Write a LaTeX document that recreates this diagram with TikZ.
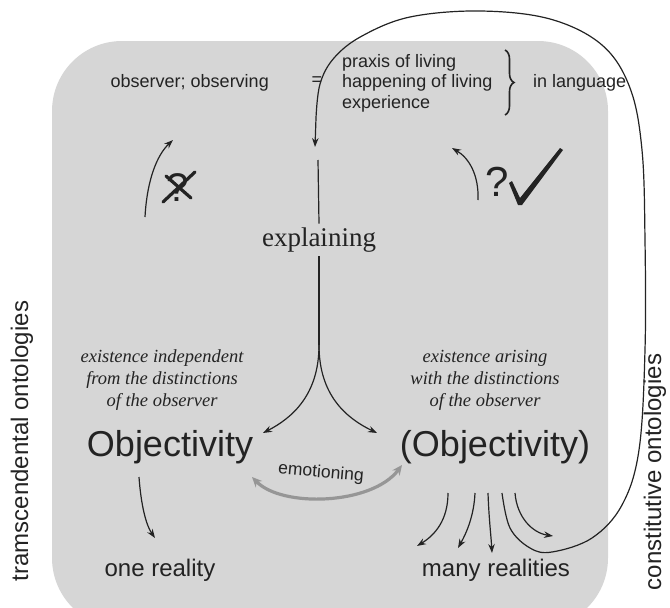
\documentclass[tikz,border=0pt]{standalone}
\usepackage{fontspec}
\setmainfont{Liberation Serif}
\setsansfont{Liberation Sans}
\usetikzlibrary{arrows.meta,decorations.pathreplacing}
\definecolor{bgfill}{RGB}{214,214,214}
\definecolor{ink}{RGB}{35,35,35}
\definecolor{emogray}{RGB}{150,150,150}
\begin{document}
\begin{tikzpicture}[x=1pt,y=-1pt,
  sm/.style={font=\sffamily\fontsize{18}{20.5}\selectfont, text=ink, inner sep=1pt},
  big/.style={font=\sffamily\fontsize{36}{40}\selectfont, text=ink, inner sep=1pt},
  res/.style={font=\sffamily\fontsize{24}{28}\selectfont, text=ink, inner sep=1pt},
  side/.style={font=\sffamily\fontsize{24}{26}\selectfont, text=ink, inner sep=1pt, rotate=90},
  itx/.style={font=\itshape\fontsize{18.5}{22}\selectfont, text=ink, align=center, inner sep=1pt},
  arr/.style={draw=ink, line width=1.2pt, -{Stealth[length=9pt,width=6.5pt]}},
  ln/.style={draw=ink, line width=1.2pt},
  emoarr/.style={draw=emogray, line width=3.2pt, {Stealth[length=10pt,width=9pt]}-{Stealth[length=10pt,width=9pt]}}
]
\useasboundingbox (0,0) rectangle (670,608);
\begin{scope}
  \clip (0,0) rectangle (670,608);
  \fill[bgfill, rounded corners=70pt] (52,41) rectangle (608,628);
\end{scope}

% top row
\node[sm, anchor=east] (obs) at (270,83) {observer; observing};
\node[sm] (neq) at (317,81) {=};
\node[sm, anchor=west, align=left] (praxis) at (341,83) {praxis of living\\happening of living\\experience};
\draw[decorate, decoration={brace, amplitude=9pt}, draw=ink, line width=1.6pt] (505,50) -- (505,115);
\node[sm, anchor=west] (inlang) at (532,83) {in language};

% explaining
\node[font=\fontsize{27}{30}\selectfont, text=ink, inner sep=4pt] (expl) at (319,240) {explaining};
\coordinate (topin) at (318,160);
\draw[ln] (topin) -- (expl.north);
\coordinate (fork) at (319,345);
\coordinate (tl) at (263,433);
\coordinate (tr) at (377,433);
\draw[ln] (expl.south) -- (fork);
\draw[arr] (fork) .. controls (319,395) and (292,418) .. (tl);
\draw[arr] (fork) .. controls (319,395) and (346,418) .. (tr);

% italic descriptions
\node[itx] (itL) at (162,380) {existence independent\\from the distinctions\\of the observer};
\node[itx] (itR) at (485,380) {existence arising\\with the distinctions\\of the observer};

% Objectivity
\node[big] (objL) at (170,447) {Objectivity};
\node[big] (objR) at (495,447) {(Objectivity)};

% emotioning
\coordinate (emoL) at (252,477);
\coordinate (emoR) at (402,465);
\draw[emoarr] (emoL) .. controls (282,508) and (372,505) .. (emoR);
\node[font=\sffamily\fontsize{17.5}{20}\selectfont, text=ink, rotate=-5] (emo) at (321,473) {emotioning};

% one reality
\coordinate (dL) at (139,477);
\coordinate (dLe) at (155,538);
\draw[arr] (dL) .. controls (141,505) and (146,525) .. (dLe);
\node[res] (oneR) at (160,570) {one reality};

% many realities fan
\coordinate (f1) at (448,493);
\coordinate (f2) at (475,493);
\coordinate (f3) at (488,493);
\coordinate (f4) at (502,493);
\coordinate (f5) at (515,493);
\coordinate (g1) at (417,546);
\coordinate (g2) at (458,548);
\coordinate (g3) at (492,553);
\coordinate (g5) at (553,536);
\draw[arr] (f1) .. controls (448,520) and (435,535) .. (g1);
\draw[arr] (f2) .. controls (474,515) and (467,532) .. (g2);
\draw[arr] (f3) .. controls (489,520) and (491,535) .. (g3);
\draw[arr] (f5) .. controls (517,518) and (533,533) .. (g5);
\node[res] (manyR) at (496,570) {many realities};

% big loop
\coordinate (loopend) at (315,147);
\draw[arr] plot[smooth, tension=0.6] coordinates {(f4) (510,528) (530,548) (552,552) (592,538) (622,505) (639,450) (645,350) (645,240) (642,150) (630,88) (602,45) (550,19) (480,11) (410,17) (362,36) (334,58) (320,84) (316,118)} -- (loopend);

% question marks and check
\coordinate (aL1) at (145,217);
\coordinate (aL2) at (173,140);
\draw[arr] (aL1) .. controls (147,180) and (157,155) .. (aL2);
\node[font=\sffamily\fontsize{40}{40}\selectfont, text=ink] (qL) at (178,188) {?};
\draw[ink, line width=3.2pt, line cap=round] (qL.center) ++(-15,14) -- ++(32,-30);
\draw[ink, line width=3.2pt, line cap=round] (qL.center) ++(-12,-12) -- ++(25,22);

\coordinate (aR1) at (478,200);
\coordinate (aR2) at (452,148);
\draw[arr] (aR1) .. controls (479,175) and (469,158) .. (aR2);
\node[font=\sffamily\fontsize{42}{42}\selectfont, text=ink] (qR) at (497,182) {?};
\fill[ink] (509,183) -- (512,181) -- (520,198) -- (560,148) -- (563,150) -- (522,205) -- (518,205) -- cycle;

% side labels
\node[side] (transc) at (22,441) {tramscendental ontologies};
\node[side] (constit) at (655,472) {constitutive ontologies};
\end{tikzpicture}
\end{document}
